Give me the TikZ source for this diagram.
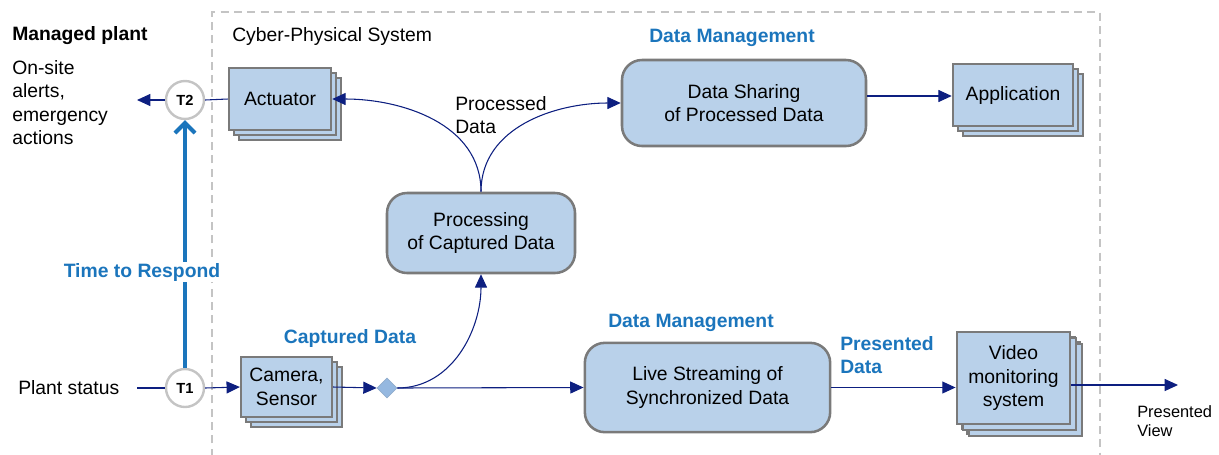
\documentclass[tikz,border=0pt]{standalone}
\usepackage{fontspec}
\setmainfont{Liberation Sans}
\usetikzlibrary{arrows.meta,shadows,shapes.geometric}
\definecolor{boxfill}{HTML}{B9D1EA}
\definecolor{boxline}{HTML}{7A7A7A}
\definecolor{navy}{HTML}{0D1F80}
\definecolor{tblue}{HTML}{1B75BC}
\definecolor{dashgray}{HTML}{C4C4C4}
\definecolor{diafill}{HTML}{95B8E0}
\begin{document}
\begin{tikzpicture}[x=0.75pt,y=-0.75pt,
  txt/.style={font=\fontsize{14.5}{17.6}\selectfont, align=center, inner sep=0pt},
  bluetxt/.style={font=\bfseries\fontsize{14.5}{17.6}\selectfont, text=tblue, inner sep=1pt},
  box/.style={txt, draw=boxline, fill=boxfill, line width=1.9pt},
  stackbox/.style={box, rectangle, double copy shadow={shadow xshift=3.75pt, shadow yshift=-3.75pt}},
  roundbox/.style={box, rectangle, rounded corners=15pt},
  tnode/.style={circle, draw=dashgray, line width=1.8pt, fill=white, minimum size=28.5pt, inner sep=0pt, font=\bfseries\fontsize{11}{13}\selectfont},
  arr/.style={draw=navy, line width=0.8pt, -{Triangle[length=10pt,width=9pt]}},
  ln/.style={draw=navy, line width=0.8pt}
]
\useasboundingbox (0,0) rectangle (1219,454);

% system boundary
\draw[dashgray, line width=1.5pt, dash pattern=on 6pt off 4pt] (212,470) |- (1100,12) -- (1100,470);

% texts
\node[anchor=west, font=\bfseries\fontsize{14.5}{17.6}\selectfont, inner sep=0pt] (mp) at (12,36) {Managed plant};
\node[txt, anchor=north west, align=left] (alerts) at (12,60) {On-site\\alerts,\\emergency\\actions};
\node[txt, anchor=west] (cps) at (232,36) {Cyber-Physical System};
\node[txt, anchor=north west, align=left] (pd) at (455,96) {Processed\\Data};
\node[bluetxt] (dm1) at (732,38) {Data Management};
\node[bluetxt] (cd) at (350,338) {Captured Data};
\node[bluetxt] (dm2) at (691,323) {Data Management};
\node[bluetxt, anchor=north west, align=left, inner sep=0pt] (presd) at (840,336) {Presented\\Data};
\node[txt, anchor=west] (ps) at (18,388) {Plant status};
\node[anchor=north west, align=left, inner sep=0pt, font=\fontsize{12.3}{14.8}\selectfont] (pv) at (1137,405) {Presented\\View};

% boxes
\node[stackbox, minimum width=76.5pt, minimum height=46.5pt] (act) at (280,99) {Actuator};
\node[stackbox, minimum width=68pt, minimum height=45pt] (cam) at (286.5,387) {Camera,\\Sensor};
\node[stackbox, minimum width=90pt, minimum height=46.5pt] (app) at (1013,95) {Application};
\node[stackbox, minimum width=85pt, minimum height=69pt, double copy shadow={shadow xshift=4.5pt, shadow yshift=-4.5pt}] (vid) at (1013.5,378) {Video\\monitoring\\system};
\node[roundbox, minimum width=141pt, minimum height=60pt] (proc) at (481,233) {Processing\\of Captured Data};
\node[roundbox, minimum width=183pt, minimum height=64.5pt] (share) at (744,103) {Data Sharing\\of Processed Data};
\node[roundbox, minimum width=184pt, minimum height=67pt] (live) at (707.5,387.5) {Live Streaming of\\Synchronized Data};

\node[tnode] (t2) at (185,100) {T2};
\node[tnode] (t1) at (185,388) {T1};
\node[diamond, fill=diafill, draw=diafill!80!gray, line width=0.5pt, minimum size=15pt, inner sep=0pt] (dia) at (387,388) {};

\coordinate (alertend) at (137,100);
\coordinate (psstart) at (137,388);
\coordinate (viewend) at (1178,385);

% connectors
\draw[arr] (t2.west) -- (alertend);
\draw[ln] (t2.east) -- (act.west);
\draw[ln] (psstart) -- (t1.west);
\draw[arr] (t1.east) -- (cam.west);
\draw[arr] (cam.east) -- (dia.west);
\draw[arr] (dia.east) -- (live.west);
\draw[arr] (dia.east) to[out=0, in=-90] (proc.south);
\draw[arr] (proc.north) to[out=90, in=0] (act.east);
\draw[arr] (proc.north) to[out=90, in=180] (share.west);
\draw[arr] (share.east |- 0,96) -- (app.west |- 0,96);
\draw[arr] (live.east) -- (vid.west |- live.east);
\draw[arr] (vid.east |- viewend) -- (viewend);

\draw[tblue, line width=3pt, -{Straight Barb[length=7.5pt,width=15pt,line width=3pt]}] (t1.north) -- (t2.south);
\node[bluetxt, fill=white, inner sep=1pt] (ttr) at (142,272) {Time to Respond};
\end{tikzpicture}
\end{document}
